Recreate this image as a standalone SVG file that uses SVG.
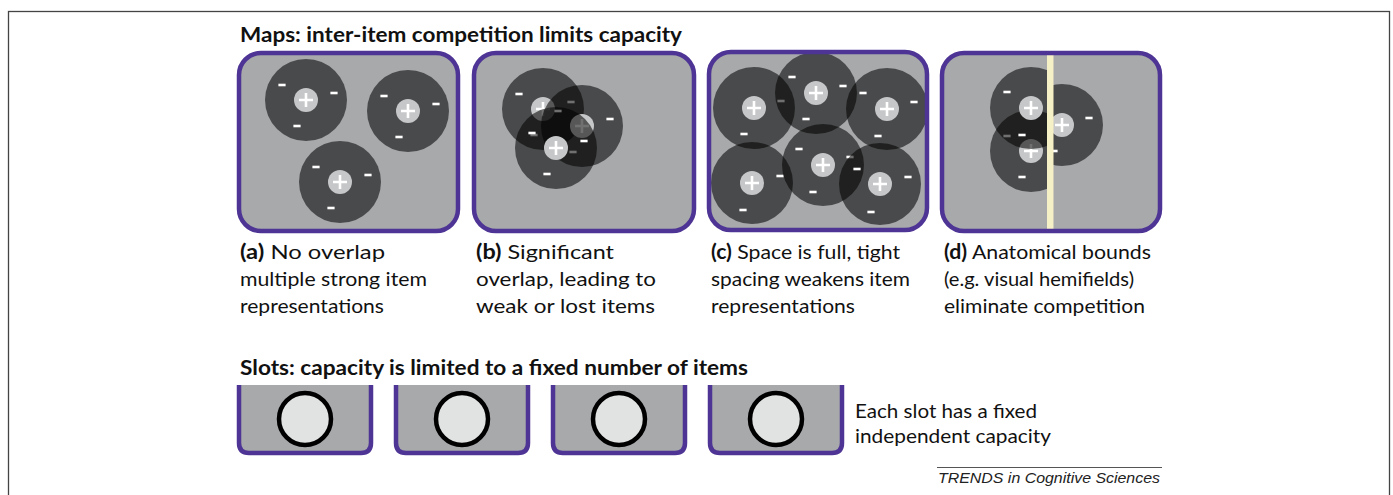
<svg xmlns="http://www.w3.org/2000/svg" xmlns:xlink="http://www.w3.org/1999/xlink" width="1393" height="495" viewBox="0 0 1393 495">
<style>
.frame{fill:#fff;stroke:#444;stroke-width:1.3}
.panel{fill:#a7a9ab;stroke:#4e3494;stroke-width:4.5}
.panelfill{fill:#a7a9ab}
.panelborder{fill:none;stroke:#4e3494;stroke-width:4.5}
.halo{fill:#000;fill-opacity:0.56}
.core{fill:#c6c7c8}
.plus{stroke:#fff;stroke-width:2.6;fill:none}
.minus{fill:#fff}
.title{font-family:"Lato","Open Sans",sans-serif;font-weight:bold;font-size:20px;fill:#111}
.cap{font-family:"Lato","Open Sans",sans-serif;font-size:20px;fill:#111}
.cap tspan.b{font-weight:bold}
.slotfill{fill:#a7a9ab}
.slotborder{fill:none;stroke:#4e3494;stroke-width:4.5}
.ball{fill:#e1e2e2;stroke:#000;stroke-width:4.5}
.credit{font-family:"Liberation Sans",Arial,sans-serif;font-style:italic;font-size:14.5px;fill:#222}
</style>
<defs>
<circle id="halo" r="41" class="halo"/>
<g id="core"><circle r="12" class="core"/><path class="plus" d="M-7,0H7M0,-7V7"/></g>
<rect id="m" x="-3.6" y="-1.3" width="7.2" height="2.6" class="minus"/>
<clipPath id="leftHalf"><rect x="900" y="40" width="149" height="200"/></clipPath>
<clipPath id="rightHalf"><rect x="1050" y="40" width="150" height="200"/></clipPath>
</defs>

<rect class="frame" x="8.5" y="11.5" width="1381" height="500"/>

<text class="title" x="240" y="42" textLength="442" lengthAdjust="spacingAndGlyphs">Maps: inter-item competition limits capacity</text>

<!-- Panel a -->
<g id="panel-a">
<rect class="panelfill" x="239" y="53" width="219" height="178" rx="22"/>
<g transform="translate(306,100)"><use xlink:href="#halo"/><use xlink:href="#core"/><use xlink:href="#m" x="-24" y="-15"/><use xlink:href="#m" x="28" y="-7"/><use xlink:href="#m" x="-9" y="26"/></g>
<g transform="translate(408,111)"><use xlink:href="#halo"/><use xlink:href="#core"/><use xlink:href="#m" x="-24" y="-15"/><use xlink:href="#m" x="28" y="-7"/><use xlink:href="#m" x="-9" y="26"/></g>
<g transform="translate(340,182)"><use xlink:href="#halo"/><use xlink:href="#core"/><use xlink:href="#m" x="-24" y="-15"/><use xlink:href="#m" x="28" y="-7"/><use xlink:href="#m" x="-9" y="26"/></g>
<rect class="panelborder" x="239" y="53" width="219" height="178" rx="22"/>
</g>

<!-- Panel b -->
<g id="panel-b">
<rect class="panelfill" x="474" y="53" width="220" height="178" rx="22"/>
<g transform="translate(543,109)"><use xlink:href="#halo"/><use xlink:href="#core"/><use xlink:href="#m" x="-24" y="-15"/><use xlink:href="#m" x="28" y="-7"/><use xlink:href="#m" x="-9" y="26"/></g>
<g transform="translate(582,126)"><use xlink:href="#halo"/><use xlink:href="#core"/><use xlink:href="#m" x="-24" y="-15"/><use xlink:href="#m" x="28" y="-7"/><use xlink:href="#m" x="-9" y="26"/></g>
<g transform="translate(556,148)"><use xlink:href="#halo"/><use xlink:href="#core"/><use xlink:href="#m" x="-24" y="-15"/><use xlink:href="#m" x="28" y="-7"/><use xlink:href="#m" x="-9" y="26"/></g>
<rect class="panelborder" x="474" y="53" width="220" height="178" rx="22"/>
</g>

<!-- Panel c -->
<g id="panel-c">
<rect class="panelfill" x="709" y="52" width="218" height="178" rx="22"/>
<g transform="translate(754,108)"><use xlink:href="#halo"/><use xlink:href="#core"/><use xlink:href="#m" x="27" y="-7"/><use xlink:href="#m" x="-10" y="26"/></g>
<g transform="translate(816,93)"><use xlink:href="#halo"/><use xlink:href="#core"/><use xlink:href="#m" x="-24" y="-16"/><use xlink:href="#m" x="27" y="-7"/><use xlink:href="#m" x="-10" y="26"/></g>
<g transform="translate(887,109)"><use xlink:href="#halo"/><use xlink:href="#core"/><use xlink:href="#m" x="-24" y="-16"/><use xlink:href="#m" x="27" y="-7"/><use xlink:href="#m" x="-9" y="27"/></g>
<g transform="translate(752,183)"><use xlink:href="#halo"/><use xlink:href="#core"/><use xlink:href="#m" x="28" y="-7"/><use xlink:href="#m" x="-9" y="27"/></g>
<g transform="translate(823,165)"><use xlink:href="#halo"/><use xlink:href="#core"/><use xlink:href="#m" x="-24" y="-16"/><use xlink:href="#m" x="27" y="-8"/><use xlink:href="#m" x="-10" y="27"/></g>
<g transform="translate(880,184)"><use xlink:href="#halo"/><use xlink:href="#core"/><use xlink:href="#m" x="-23" y="-15"/><use xlink:href="#m" x="28" y="-7"/><use xlink:href="#m" x="-9" y="28"/></g>
<rect class="panelborder" x="709" y="52" width="218" height="178" rx="22"/>
</g>

<!-- Panel d -->
<g id="panel-d">
<rect class="panelfill" x="942" y="53" width="218" height="178" rx="22"/>
<g clip-path="url(#leftHalf)">
<g transform="translate(1031,151)"><use xlink:href="#halo"/><use xlink:href="#core"/><use xlink:href="#m" x="-24" y="-15"/><use xlink:href="#m" x="28" y="-7"/><use xlink:href="#m" x="-9" y="26"/></g>
<g transform="translate(1031,108)"><use xlink:href="#halo"/><use xlink:href="#core"/><use xlink:href="#m" x="-24" y="-16"/><use xlink:href="#m" x="28" y="-7"/><use xlink:href="#m" x="-9" y="27"/></g>
</g>
<g clip-path="url(#rightHalf)">
<g transform="translate(1062,125)"><use xlink:href="#halo"/><use xlink:href="#core"/><use xlink:href="#m" x="-24" y="-15"/><use xlink:href="#m" x="27" y="-7"/><use xlink:href="#m" x="-8" y="26"/></g>
</g>
<rect x="1047" y="53" width="6.5" height="176" fill="#f6f0c6"/>
<rect class="panelborder" x="942" y="53" width="218" height="178" rx="22"/>
</g>

<!-- Captions -->
<g id="cap-a">
<text class="cap" x="240" y="259" textLength="145" lengthAdjust="spacingAndGlyphs"><tspan class="b">(a)</tspan> No overlap</text>
<text class="cap" x="240" y="286" textLength="187" lengthAdjust="spacingAndGlyphs">multiple strong item</text>
<text class="cap" x="240" y="313" textLength="144" lengthAdjust="spacingAndGlyphs">representations</text>
</g>
<g id="cap-b">
<text class="cap" x="476" y="259" textLength="138" lengthAdjust="spacingAndGlyphs"><tspan class="b">(b)</tspan> Significant</text>
<text class="cap" x="476" y="286" textLength="180" lengthAdjust="spacingAndGlyphs">overlap, leading to</text>
<text class="cap" x="476" y="313" textLength="179" lengthAdjust="spacingAndGlyphs">weak or lost items</text>
</g>
<g id="cap-c">
<text class="cap" x="711" y="259" textLength="189" lengthAdjust="spacingAndGlyphs"><tspan class="b">(c)</tspan> Space is full, tight</text>
<text class="cap" x="711" y="286" textLength="199" lengthAdjust="spacingAndGlyphs">spacing weakens item</text>
<text class="cap" x="711" y="313" textLength="144" lengthAdjust="spacingAndGlyphs">representations</text>
</g>
<g id="cap-d">
<text class="cap" x="944" y="259" textLength="207" lengthAdjust="spacingAndGlyphs"><tspan class="b">(d)</tspan> Anatomical bounds</text>
<text class="cap" x="944" y="286" textLength="190" lengthAdjust="spacingAndGlyphs">(e.g. visual hemifields)</text>
<text class="cap" x="944" y="313" textLength="201" lengthAdjust="spacingAndGlyphs">eliminate competition</text>
</g>

<text class="title" x="240" y="375" textLength="508" lengthAdjust="spacingAndGlyphs">Slots: capacity is limited to a fixed number of items</text>

<!-- Slots -->
<g id="slot-1">
<path class="slotfill" d="M239,385V443Q239,453 249,453H361Q371,453 371,443V385Z"/>
<path class="slotborder" d="M239,385V443Q239,453 249,453H361Q371,453 371,443V385"/>
<circle class="ball" cx="305" cy="419" r="26"/>
</g>
<g id="slot-2">
<path class="slotfill" d="M396,385V443Q396,453 406,453H518Q528,453 528,443V385Z"/>
<path class="slotborder" d="M396,385V443Q396,453 406,453H518Q528,453 528,443V385"/>
<circle class="ball" cx="462" cy="419" r="26"/>
</g>
<g id="slot-3">
<path class="slotfill" d="M553,385V443Q553,453 563,453H675Q685,453 685,443V385Z"/>
<path class="slotborder" d="M553,385V443Q553,453 563,453H675Q685,453 685,443V385"/>
<circle class="ball" cx="619" cy="419" r="26"/>
</g>
<g id="slot-4">
<path class="slotfill" d="M710,385V443Q710,453 720,453H832Q842,453 842,443V385Z"/>
<path class="slotborder" d="M710,385V443Q710,453 720,453H832Q842,453 842,443V385"/>
<circle class="ball" cx="776" cy="419" r="26"/>
</g>

<g id="slot-note">
<text class="cap" x="855" y="418" textLength="182" lengthAdjust="spacingAndGlyphs">Each slot has a fixed</text>
<text class="cap" x="855" y="443" textLength="196" lengthAdjust="spacingAndGlyphs">independent capacity</text>
</g>

<g id="credit">
<line x1="937" y1="467.5" x2="1162" y2="467.5" stroke="#555" stroke-width="1"/>
<text class="credit" x="938" y="483" textLength="222" lengthAdjust="spacingAndGlyphs">TRENDS in Cognitive Sciences</text>
</g>
<g id="connectors"/>
</svg>
